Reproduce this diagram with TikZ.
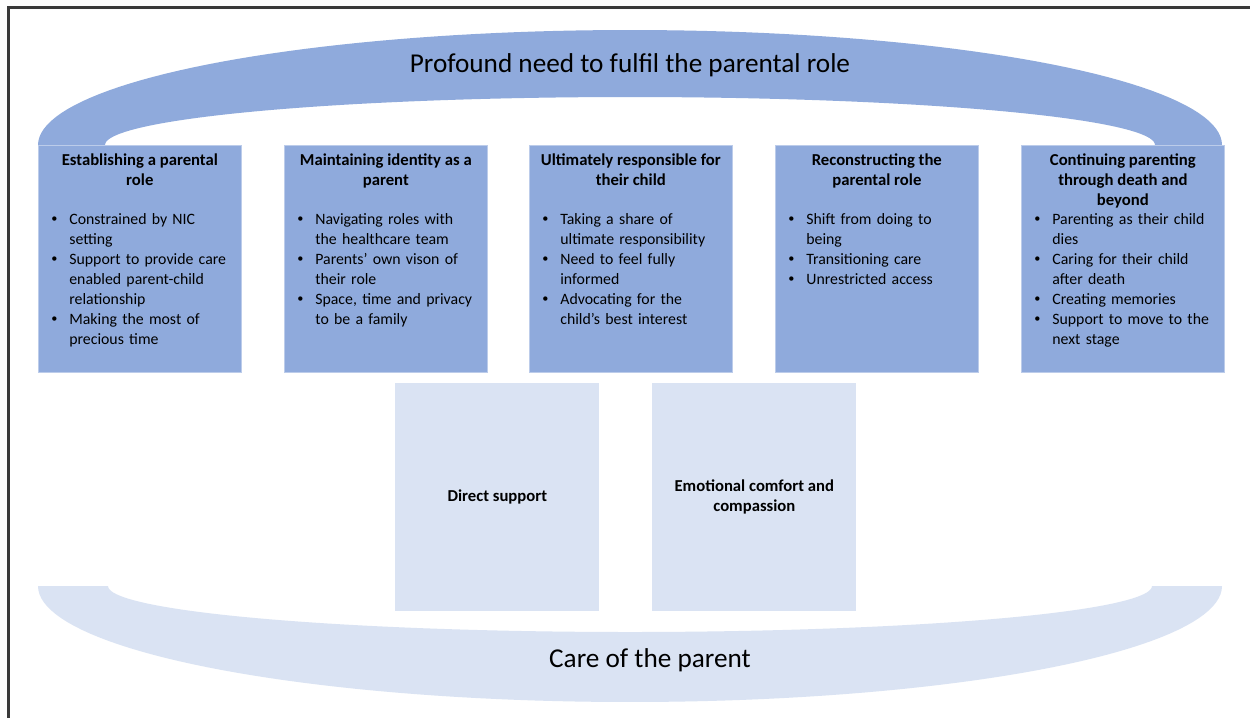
\documentclass[tikz,border=0pt]{standalone}
\usepackage{fontspec}
\setmainfont{Carlito}
\usetikzlibrary{positioning}
\definecolor{roleblue}{HTML}{8FAADC}
\definecolor{careblue}{HTML}{DAE3F3}
\definecolor{framegray}{HTML}{3A3A3A}
\hyphenpenalty=10000
\exhyphenpenalty=10000
% one bullet point with hanging indent
\newcommand{\bp}[1]{\hangindent=0.36cm\hangafter=1\noindent
  \makebox[0.36cm][l]{\raisebox{0.25ex}{\fontsize{7}{7}\selectfont\textbullet}}#1\par}

\begin{document}
\begin{tikzpicture}[x=0.02cm, y=-0.02cm,
    rolebox/.style={rectangle, fill=roleblue, draw=roleblue!60!white, line width=0.4pt,
      minimum width=4.06cm, minimum height=4.54cm, anchor=north west, inner sep=0},
    carebox/.style={rectangle, fill=careblue, minimum width=4.08cm, minimum height=4.56cm,
      anchor=north west, inner sep=0, align=center,
      font=\fontsize{9.5}{11.4}\selectfont\bfseries},
    head/.style={align=center, inner sep=0, anchor=north,
      font=\fontsize{9.5}{11.4}\selectfont\bfseries},
    items/.style={align=left, inner sep=0, anchor=north west, text width=3.6cm,
      font=\fontsize{9}{11.4}\selectfont},
    bandtext/.style={font=\fontsize{15.5}{18}\selectfont, inner sep=0}
  ]
    \useasboundingbox (0,0) rectangle (1250,718);
    \fill[white] (0,0) rectangle (1250,718);
    \draw[framegray, line width=1.3pt] (1250,7.5) -- (8.5,7.5) -- (8.5,718);

    % upper band
    \fill[roleblue] plot[domain=180:0, samples=90] ({630+592*cos(\x)},{145-115*sin(\x)})
      -- plot[domain=0:180, samples=90] ({630+525*cos(\x)},{145-48*sin(\x)}) -- cycle;
    \node[bandtext] (need) at (630,65) {Profound need to fulfil the parental role};

    % the five parental roles
    \node[rolebox] (b1) at (38,145) {};
    \node[rolebox] (b2) at (284,145) {};
    \node[rolebox] (b3) at (529,145) {};
    \node[rolebox] (b4) at (775,145) {};
    \node[rolebox] (b5) at (1021,145) {};

    \node[head, below=0.16cm of b1.north] (h1) {Establishing a parental\\role};
    \node[head, below=0.16cm of b2.north] (h2) {Maintaining identity as a\\parent};
    \node[head, below=0.16cm of b3.north] (h3) {Ultimately responsible for\\their child};
    \node[head, below=0.16cm of b4.north] (h4) {Reconstructing the\\parental role};
    \node[head, below=0.16cm of b5.north] (h5) {Continuing parenting\\through death and\\beyond};

    \node[items] (l1) at ([shift={(13,68)}]b1.north west) {
      \bp{Constrained by NIC setting}
      \bp{Support to provide care enabled parent-child relationship}
      \bp{Making the most of precious time}};
    \node[items] (l2) at ([shift={(13,68)}]b2.north west) {
      \bp{Navigating roles with the healthcare team}
      \bp{Parents’ own vison of their role}
      \bp{Space, time and privacy to be a family}};
    \node[items] (l3) at ([shift={(13,68)}]b3.north west) {
      \bp{Taking a share of ultimate responsibility}
      \bp{Need to feel fully informed}
      \bp{Advocating for the child’s best interest}};
    \node[items] (l4) at ([shift={(13,68)}]b4.north west) {
      \bp{Shift from doing to being}
      \bp{Transitioning care}
      \bp{Unrestricted access}};
    \node[items] (l5) at ([shift={(13,68)}]b5.north west) {
      \bp{Parenting as their child dies}
      \bp{Caring for their child after death}
      \bp{Creating memories}
      \bp{Support to move to the next stage}};

    % lower band
    \fill[careblue] plot[domain=180:0, samples=90] ({630+592*cos(\x)},{586+116*sin(\x)})
      -- plot[domain=0:180, samples=90] ({630+522*cos(\x)},{586+46*sin(\x)}) -- cycle;
    \node[bandtext] (care) at (650,660) {Care of the parent};

    % the two kinds of care
    \node[carebox] (c1) at (395,383) {Direct support};
    \node[carebox] (c2) at (652,383) {Emotional comfort and\\compassion};
\end{tikzpicture}
\end{document}
